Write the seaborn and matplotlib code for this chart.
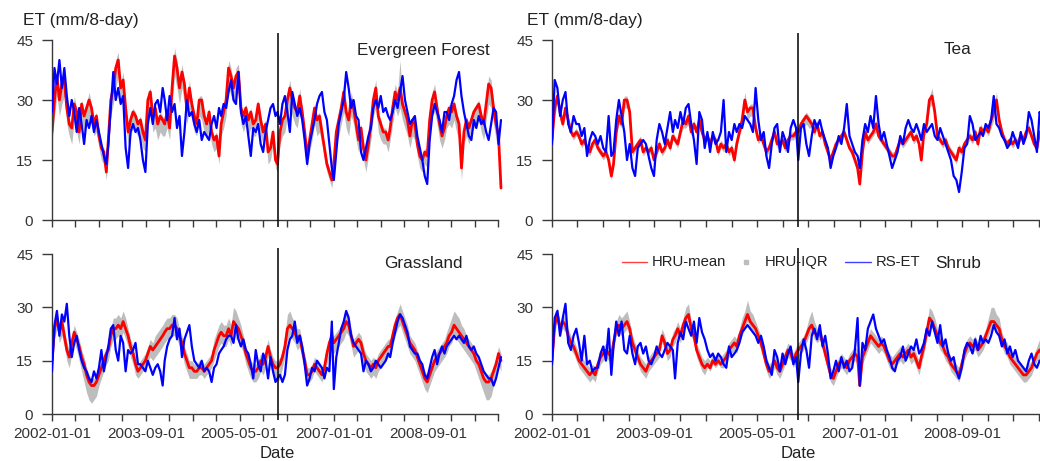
import matplotlib
matplotlib.use("Agg")
import matplotlib.pyplot as plt
import matplotlib.dates as mdates
from matplotlib.lines import Line2D
import seaborn as sns
import pandas as pd
import numpy as np

# ---------------------------------------------------------------
# 16-day ET composites (mm/8-day), 23 composites per year, 2002-2009
# ---------------------------------------------------------------
years = list(range(2002, 2010))
steps_per_year = 23

ef_mean = [
    22, 30, 36, 30, 34, 35, 28, 24, 23, 29, 27, 22, 29, 26, 28, 30, 28, 24, 26, 21, 18, 17, 12,
    20, 30, 33, 38, 40, 33, 35, 28, 22, 25, 27, 26, 24, 25, 22, 20, 30, 32, 26, 28, 24, 26, 25,
    24, 27, 23, 33, 41, 38, 33, 37, 34, 28, 33, 29, 26, 24, 30, 30, 26, 24, 27, 22, 20, 21, 16,
    24, 27, 30, 38, 36, 33, 36, 37, 28, 26, 28, 25, 27, 24, 25, 29, 25, 22, 24, 17, 18, 22, 15,
    14, 22, 25, 26, 30, 33, 30, 28, 27, 31, 27, 22, 16, 20, 24, 28, 25, 26, 22, 18, 14, 12, 10,
    14, 22, 25, 28, 32, 27, 25, 30, 28, 24, 20, 23, 18, 15, 19, 24, 30, 33, 26, 24, 22, 22, 20,
    23, 28, 32, 30, 33, 29, 27, 25, 21, 25, 24, 19, 16, 15, 17, 16, 25, 30, 32, 28, 24, 21, 23,
    26, 28, 27, 29, 26, 24, 13, 22, 25, 23, 25, 27, 28, 29, 26, 24, 29, 34, 33, 28, 24, 21, 8,
]
ef_rs = [
    27, 38, 34, 40, 33, 38, 31, 26, 30, 27, 22, 28, 24, 19, 25, 23, 26, 22, 25, 22, 19, 16, 14,
    19, 28, 37, 30, 33, 29, 31, 18, 13, 22, 24, 22, 23, 20, 15, 12, 24, 28, 24, 29, 30, 27, 33,
    30, 25, 31, 27, 29, 23, 26, 16, 22, 30, 26, 27, 24, 22, 25, 20, 22, 21, 20, 24, 26, 23, 28,
    26, 29, 28, 32, 35, 30, 29, 37, 27, 24, 26, 21, 16, 23, 22, 24, 19, 17, 22, 25, 28, 29, 26,
    27, 24, 29, 31, 27, 22, 32, 29, 26, 28, 25, 20, 14, 19, 22, 25, 29, 31, 32, 27, 25, 19, 13,
    10, 17, 24, 27, 30, 37, 33, 28, 30, 26, 25, 17, 15, 18, 21, 23, 28, 30, 28, 31, 27, 28, 26,
    25, 27, 30, 28, 32, 36, 30, 27, 24, 25, 26, 21, 18, 15, 11, 9, 20, 26, 29, 27, 25, 22, 27,
    27, 25, 29, 31, 35, 37, 31, 27, 24, 21, 20, 25, 23, 26, 24, 25, 22, 20, 24, 28, 27, 19, 25,
]
ef_iqr_below = [
    3, 4, 5, 4, 5, 4, 4, 3, 4, 4, 5, 3, 4, 4, 4, 5, 4, 3, 4, 3, 3, 3, 2,
    3, 4, 4, 5, 4, 4, 5, 4, 3, 4, 4, 4, 3, 4, 4, 3, 5, 4, 4, 5, 4, 4, 4,
    3, 4, 3, 4, 5, 5, 4, 4, 5, 4, 5, 4, 4, 3, 4, 5, 4, 4, 4, 3, 3, 3, 2,
    3, 4, 4, 5, 5, 4, 5, 5, 4, 4, 4, 4, 4, 3, 4, 4, 4, 3, 3, 3, 3, 3, 2,
    2, 3, 4, 4, 4, 5, 4, 4, 4, 4, 4, 3, 3, 3, 4, 4, 4, 4, 3, 3, 2, 2, 2,
    2, 3, 4, 4, 5, 4, 4, 4, 4, 4, 3, 3, 3, 3, 3, 4, 4, 5, 4, 4, 3, 3, 3,
    3, 4, 4, 4, 5, 4, 4, 4, 3, 4, 4, 3, 3, 3, 3, 3, 4, 4, 5, 4, 4, 3, 3,
    3, 4, 4, 4, 4, 4, 3, 3, 4, 4, 4, 4, 4, 4, 4, 4, 4, 5, 5, 4, 4, 3, 1,
]
ef_iqr_above = [
    1, 2, 2, 1, 2, 2, 1, 1, 1, 2, 1, 1, 1, 1, 1, 2, 1, 1, 1, 1, 1, 1, 1,
    1, 1, 2, 2, 2, 1, 2, 1, 1, 1, 1, 1, 1, 1, 1, 1, 2, 1, 1, 1, 1, 1, 1,
    1, 1, 1, 2, 2, 2, 1, 2, 1, 1, 2, 1, 1, 1, 1, 1, 1, 1, 1, 1, 1, 1, 1,
    1, 1, 2, 2, 2, 1, 2, 2, 1, 1, 1, 1, 1, 1, 1, 1, 1, 1, 1, 1, 1, 1, 1,
    1, 1, 1, 1, 2, 2, 1, 1, 1, 2, 1, 1, 1, 1, 1, 1, 1, 1, 1, 1, 1, 1, 1,
    1, 1, 1, 1, 2, 1, 1, 2, 1, 1, 1, 1, 1, 1, 1, 1, 2, 2, 1, 1, 1, 1, 1,
    1, 1, 2, 2, 7, 1, 1, 1, 1, 1, 1, 1, 1, 1, 1, 1, 1, 2, 2, 1, 1, 1, 1,
    1, 1, 1, 1, 1, 1, 1, 1, 1, 1, 1, 1, 1, 1, 1, 1, 1, 2, 2, 1, 1, 1, 1,
]

tea_mean = [
    20, 28, 31, 27, 24, 28, 25, 22, 21, 22, 21, 19, 20, 18, 17, 19, 20, 18, 17, 16, 17, 15, 11,
    14, 22, 26, 24, 30, 30, 27, 17, 18, 19, 20, 17, 18, 17, 18, 15, 17, 19, 17, 18, 20, 18, 21,
    20, 19, 22, 25, 24, 26, 22, 24, 22, 25, 22, 20, 21, 19, 21, 20, 17, 19, 18, 19, 17, 18, 15,
    19, 22, 25, 30, 27, 28, 28, 23, 20, 21, 19, 17, 18, 20, 22, 19, 19, 20, 18, 20, 21, 21, 22,
    22, 24, 25, 26, 25, 24, 22, 24, 21, 22, 19, 17, 15, 17, 19, 20, 21, 22, 20, 18, 17, 15, 13,
    9, 17, 22, 20, 21, 22, 24, 21, 20, 19, 18, 17, 16, 16, 18, 20, 19, 20, 21, 22, 20, 21, 19,
    15, 22, 24, 30, 31, 27, 21, 20, 19, 20, 18, 17, 16, 15, 18, 17, 19, 20, 21, 20, 22, 19, 23,
    22, 23, 22, 25, 27, 30, 25, 22, 20, 19, 20, 19, 20, 19, 21, 20, 22, 23, 21, 19, 18, 22, 21,
]
tea_rs = [
    19, 35, 33, 26, 30, 32, 24, 22, 26, 24, 24, 21, 23, 16, 20, 22, 21, 19, 21, 18, 17, 26, 16,
    17, 25, 30, 26, 22, 15, 19, 13, 11, 18, 19, 20, 19, 16, 13, 11, 20, 24, 22, 19, 23, 27, 22,
    25, 23, 27, 24, 28, 29, 24, 20, 14, 27, 25, 18, 22, 17, 22, 19, 20, 22, 30, 17, 22, 20, 24,
    22, 24, 23, 26, 25, 24, 22, 33, 25, 20, 22, 16, 13, 19, 23, 24, 17, 22, 20, 17, 23, 25, 23,
    15, 23, 24, 19, 16, 21, 25, 23, 25, 22, 20, 18, 13, 16, 18, 21, 19, 23, 29, 21, 19, 17, 16,
    13, 20, 24, 22, 26, 23, 31, 24, 20, 22, 19, 16, 13, 15, 17, 21, 19, 23, 25, 23, 22, 24, 22,
    20, 24, 22, 23, 24, 21, 20, 23, 21, 19, 17, 15, 11, 10, 7, 12, 18, 19, 26, 24, 20, 21, 22,
    21, 24, 23, 25, 31, 24, 23, 21, 20, 18, 19, 22, 20, 18, 22, 19, 21, 27, 25, 21, 17, 27, 24,
]
tea_iqr_below = [
    1, 2, 2, 2, 1, 2, 1, 1, 1, 1, 1, 1, 1, 1, 1, 1, 1, 1, 1, 1, 1, 1, 1,
    1, 1, 2, 1, 2, 2, 1, 1, 1, 1, 1, 1, 1, 1, 1, 1, 1, 1, 1, 1, 1, 1, 1,
    1, 1, 1, 2, 1, 2, 1, 1, 1, 2, 1, 1, 1, 1, 1, 1, 1, 1, 1, 1, 1, 1, 1,
    1, 1, 2, 2, 2, 2, 2, 1, 1, 1, 1, 1, 1, 1, 1, 1, 1, 1, 1, 1, 1, 1, 1,
    1, 1, 2, 2, 2, 1, 1, 1, 1, 1, 1, 1, 1, 1, 1, 1, 1, 1, 1, 1, 1, 1, 1,
    1, 1, 1, 1, 1, 1, 2, 1, 1, 1, 1, 1, 1, 1, 1, 1, 1, 1, 1, 1, 1, 1, 1,
    1, 1, 2, 2, 2, 2, 1, 1, 1, 1, 1, 1, 1, 1, 1, 1, 1, 1, 1, 1, 1, 1, 1,
    1, 1, 1, 2, 2, 2, 2, 1, 1, 1, 1, 1, 1, 1, 1, 1, 1, 1, 1, 1, 1, 1, 1,
]
tea_iqr_above = [
    1, 1, 1, 1, 1, 1, 1, 1, 1, 1, 1, 1, 1, 1, 1, 1, 1, 1, 1, 1, 1, 1, 1,
    1, 1, 1, 1, 1, 1, 1, 1, 1, 1, 1, 1, 1, 1, 1, 1, 1, 1, 1, 1, 1, 1, 1,
    1, 1, 1, 1, 1, 1, 1, 1, 1, 1, 1, 1, 1, 1, 1, 1, 1, 1, 1, 1, 1, 1, 1,
    1, 1, 1, 2, 1, 1, 1, 1, 1, 1, 1, 1, 1, 1, 1, 1, 1, 1, 1, 1, 1, 1, 1,
    1, 1, 1, 1, 1, 1, 1, 1, 1, 1, 1, 1, 1, 1, 1, 1, 1, 1, 1, 1, 1, 1, 1,
    1, 1, 1, 1, 1, 1, 1, 1, 1, 1, 1, 1, 1, 1, 1, 1, 1, 1, 1, 1, 1, 1, 1,
    1, 1, 1, 1, 2, 1, 1, 1, 1, 1, 1, 1, 1, 1, 1, 1, 1, 1, 1, 1, 1, 1, 1,
    1, 1, 1, 1, 1, 2, 1, 1, 1, 1, 1, 1, 1, 1, 1, 1, 1, 1, 1, 1, 1, 1, 1,
]

gr_mean = [
    15, 24, 27, 23, 26, 22, 18, 16, 20, 23, 21, 19, 16, 14, 11, 9, 8, 8, 9, 11, 13, 15, 17,
    18, 22, 24, 24, 25, 24, 26, 24, 22, 19, 17, 14, 12, 13, 14, 15, 17, 19, 18, 19, 20, 21, 22,
    23, 24, 24, 25, 25, 24, 22, 20, 17, 15, 13, 13, 12, 12, 13, 13, 12, 13, 14, 15, 18, 20, 22,
    23, 22, 22, 24, 22, 26, 25, 24, 22, 20, 17, 15, 13, 12, 12, 13, 15, 14, 16, 19, 16, 14, 13,
    13, 14, 16, 19, 24, 25, 24, 23, 21, 22, 18, 15, 11, 11, 12, 14, 13, 12, 11, 13, 17, 20, 22,
    20, 21, 22, 23, 24, 26, 25, 22, 19, 20, 21, 20, 17, 15, 14, 13, 14, 13, 15, 16, 17, 18, 19,
    19, 22, 25, 27, 28, 26, 24, 22, 20, 19, 18, 16, 14, 12, 10, 9, 11, 13, 15, 16, 17, 18, 19,
    20, 22, 23, 25, 24, 23, 22, 21, 20, 19, 18, 17, 15, 14, 12, 10, 9, 9, 10, 12, 14, 17, 15,
]
gr_rs = [
    12, 25, 29, 22, 28, 26, 31, 22, 16, 20, 22, 18, 15, 13, 12, 10, 9, 12, 10, 13, 18, 12, 16,
    19, 24, 25, 18, 15, 22, 20, 12, 18, 17, 18, 20, 14, 14, 13, 12, 15, 13, 11, 13, 14, 12, 8,
    15, 19, 21, 22, 27, 21, 24, 16, 21, 23, 25, 19, 15, 14, 13, 15, 12, 13, 12, 9, 13, 14, 17,
    18, 19, 21, 22, 22, 20, 25, 21, 19, 21, 18, 17, 14, 10, 18, 14, 12, 17, 15, 10, 16, 12, 9,
    10, 11, 9, 11, 18, 21, 22, 26, 20, 22, 19, 14, 8, 10, 13, 12, 15, 14, 13, 10, 13, 12, 26,
    7, 16, 20, 24, 26, 29, 27, 22, 20, 19, 18, 17, 12, 15, 14, 12, 13, 15, 14, 13, 14, 15, 17,
    16, 20, 23, 26, 28, 27, 25, 23, 19, 18, 17, 17, 15, 14, 11, 10, 13, 16, 18, 14, 17, 19, 17,
    19, 20, 21, 22, 21, 22, 21, 20, 22, 19, 18, 19, 17, 16, 14, 12, 11, 10, 10, 8, 10, 13, 16,
]
gr_iqr_below = [
    3, 3, 3, 3, 4, 3, 3, 3, 3, 3, 3, 4, 4, 5, 5, 5, 5, 4, 4, 3, 3, 3, 3,
    3, 3, 3, 3, 3, 3, 3, 3, 3, 3, 3, 3, 2, 2, 2, 2, 2, 3, 3, 3, 3, 3, 3,
    3, 3, 3, 3, 3, 3, 3, 3, 3, 3, 3, 3, 2, 2, 2, 2, 2, 2, 2, 2, 3, 3, 3,
    3, 3, 3, 3, 3, 3, 4, 3, 3, 3, 3, 3, 3, 3, 3, 3, 3, 3, 3, 3, 3, 3, 3,
    4, 4, 3, 3, 3, 3, 3, 3, 3, 3, 3, 3, 2, 2, 2, 2, 2, 2, 2, 2, 3, 3, 3,
    3, 3, 3, 3, 3, 3, 3, 3, 3, 3, 3, 3, 3, 3, 3, 3, 3, 3, 3, 3, 3, 3, 3,
    3, 3, 3, 3, 3, 3, 3, 3, 3, 3, 3, 3, 3, 3, 3, 3, 3, 3, 3, 3, 3, 3, 3,
    3, 3, 3, 3, 3, 3, 3, 3, 3, 3, 3, 3, 3, 4, 4, 4, 5, 5, 5, 4, 4, 3, 3,
]
gr_iqr_above = [
    2, 2, 2, 2, 2, 2, 2, 2, 2, 2, 2, 2, 2, 2, 2, 2, 2, 2, 2, 2, 2, 2, 2,
    2, 2, 3, 3, 3, 3, 3, 3, 2, 2, 2, 2, 2, 2, 2, 2, 2, 2, 2, 3, 3, 3, 3,
    3, 3, 3, 3, 3, 3, 2, 2, 2, 2, 2, 2, 2, 2, 2, 2, 2, 2, 2, 2, 3, 3, 3,
    3, 3, 3, 3, 3, 4, 4, 3, 3, 2, 2, 2, 2, 2, 2, 2, 2, 2, 2, 2, 2, 2, 2,
    2, 2, 2, 3, 4, 4, 3, 3, 3, 2, 2, 2, 2, 2, 2, 2, 2, 2, 2, 2, 2, 2, 2,
    2, 2, 2, 2, 3, 3, 3, 2, 2, 2, 2, 2, 2, 2, 2, 2, 2, 2, 2, 2, 2, 2, 2,
    2, 2, 2, 2, 3, 3, 3, 3, 2, 2, 2, 2, 2, 2, 2, 2, 2, 2, 2, 2, 2, 2, 2,
    3, 3, 4, 4, 4, 4, 3, 3, 2, 2, 2, 2, 2, 2, 2, 2, 2, 2, 2, 2, 2, 2, 2,
]

sh_mean = [
    15, 25, 28, 24, 26, 25, 22, 20, 19, 17, 15, 14, 13, 12, 11, 12, 11, 14, 16, 17, 18, 17, 16,
    20, 24, 25, 24, 25, 26, 24, 20, 18, 16, 14, 13, 12, 14, 15, 16, 17, 18, 22, 20, 17, 18, 21,
    22, 24, 22, 25, 27, 28, 24, 22, 18, 16, 14, 13, 14, 13, 15, 14, 15, 14, 15, 16, 18, 19, 20,
    19, 22, 24, 26, 28, 26, 25, 24, 22, 20, 17, 14, 12, 13, 15, 13, 12, 14, 16, 18, 17, 15, 17,
    18, 19, 20, 22, 24, 25, 23, 22, 23, 20, 17, 14, 11, 10, 12, 14, 15, 14, 13, 15, 16, 17, 16,
    8, 16, 18, 20, 22, 21, 20, 19, 20, 19, 17, 15, 14, 15, 16, 17, 16, 17, 18, 16, 17, 15, 13,
    16, 19, 23, 27, 26, 24, 22, 20, 19, 17, 16, 14, 13, 12, 11, 14, 17, 19, 20, 19, 20, 18, 19,
    20, 22, 24, 26, 26, 25, 24, 21, 19, 18, 16, 15, 14, 13, 12, 11, 11, 12, 13, 15, 17, 18, 17,
]
sh_rs = [
    14, 27, 29, 22, 27, 31, 20, 18, 22, 24, 20, 15, 22, 14, 15, 12, 13, 13, 17, 19, 15, 24, 11,
    19, 26, 22, 26, 18, 17, 22, 17, 14, 19, 20, 17, 19, 15, 14, 16, 19, 17, 16, 18, 20, 19, 18,
    10, 20, 23, 21, 26, 24, 22, 26, 20, 27, 23, 21, 18, 16, 17, 15, 17, 16, 14, 13, 19, 16, 17,
    18, 20, 23, 24, 25, 24, 23, 22, 20, 22, 19, 15, 13, 11, 18, 16, 12, 17, 14, 17, 19, 14, 16,
    9, 17, 21, 18, 13, 22, 24, 21, 25, 19, 22, 17, 10, 12, 15, 12, 16, 13, 15, 12, 13, 18, 27,
    8, 20, 18, 24, 26, 28, 24, 22, 20, 21, 18, 16, 13, 12, 15, 16, 19, 15, 17, 19, 18, 21, 17,
    18, 20, 24, 22, 26, 23, 20, 25, 19, 21, 17, 15, 16, 12, 10, 13, 18, 20, 19, 17, 21, 18, 22,
    20, 21, 20, 22, 25, 23, 22, 19, 21, 17, 19, 16, 18, 15, 14, 13, 12, 15, 17, 14, 13, 15, 14,
]
sh_iqr_below = [
    2, 2, 2, 2, 2, 2, 2, 2, 2, 2, 2, 2, 2, 2, 2, 2, 2, 2, 2, 2, 2, 2, 2,
    2, 2, 2, 2, 2, 2, 2, 2, 2, 2, 2, 2, 2, 2, 2, 2, 2, 2, 2, 2, 2, 2, 2,
    2, 2, 2, 2, 2, 2, 2, 2, 2, 2, 2, 2, 1, 1, 1, 1, 1, 1, 2, 2, 2, 2, 2,
    2, 2, 2, 2, 2, 2, 2, 2, 2, 2, 2, 2, 2, 2, 2, 2, 2, 2, 2, 2, 2, 2, 2,
    2, 2, 2, 2, 2, 2, 2, 2, 2, 2, 2, 2, 2, 2, 2, 2, 2, 2, 2, 2, 2, 2, 2,
    1, 2, 2, 2, 2, 2, 2, 2, 2, 2, 2, 2, 2, 2, 2, 2, 2, 2, 2, 2, 2, 2, 2,
    2, 2, 2, 2, 2, 2, 2, 2, 2, 2, 2, 2, 2, 2, 2, 2, 2, 2, 2, 2, 2, 2, 2,
    2, 2, 2, 2, 2, 2, 2, 2, 2, 2, 2, 2, 2, 2, 2, 2, 2, 2, 2, 2, 2, 3, 3,
]
sh_iqr_above = [
    2, 2, 2, 2, 2, 2, 2, 2, 2, 2, 2, 2, 2, 2, 2, 2, 2, 2, 2, 2, 2, 2, 2,
    2, 2, 3, 3, 3, 3, 2, 2, 2, 2, 2, 2, 2, 2, 2, 2, 2, 2, 2, 2, 2, 2, 2,
    2, 2, 2, 2, 3, 3, 2, 2, 2, 2, 2, 2, 2, 2, 2, 2, 2, 2, 2, 2, 2, 2, 2,
    2, 2, 3, 3, 4, 3, 3, 2, 2, 2, 2, 2, 2, 2, 2, 2, 2, 2, 2, 2, 2, 2, 2,
    2, 2, 2, 2, 3, 4, 3, 2, 2, 2, 2, 2, 2, 2, 2, 2, 2, 2, 2, 2, 2, 2, 2,
    2, 2, 2, 2, 2, 2, 2, 2, 2, 2, 2, 2, 2, 2, 2, 2, 2, 2, 2, 2, 2, 2, 2,
    2, 2, 2, 3, 3, 3, 2, 2, 2, 2, 2, 2, 2, 2, 2, 2, 2, 2, 2, 2, 2, 2, 2,
    2, 2, 3, 4, 4, 3, 3, 2, 2, 2, 2, 2, 2, 2, 2, 2, 2, 2, 2, 2, 2, 3, 3,
]

panel_names = ["Evergreen Forest", "Tea", "Grassland", "Shrub"]
legend_labels = ["HRU-mean", "HRU-IQR", "RS-ET"]
y_ticks = [0, 15, 30, 45]
x_label_dates = ["2002-01-01", "2003-09-01", "2005-05-01", "2007-01-01", "2008-09-01"]
split_date = "2006-01-01"

# composite start dates: day 1, 17, 33, ... of each year
dates = pd.DatetimeIndex([pd.Timestamp(y, 1, 1) + pd.Timedelta(days=16 * k)
                          for y in years for k in range(steps_per_year)])

panels = [
    (ef_mean, ef_rs, ef_iqr_below, ef_iqr_above),
    (tea_mean, tea_rs, tea_iqr_below, tea_iqr_above),
    (gr_mean, gr_rs, gr_iqr_below, gr_iqr_above),
    (sh_mean, sh_rs, sh_iqr_below, sh_iqr_above),
]

sns.set_theme(style="white")
plt.rcParams["font.family"] = ["Liberation Sans", "DejaVu Sans"]

W, H = 1040, 461
fig = plt.figure(figsize=(W / 100, H / 100), dpi=100)
fig.patch.set_facecolor("white")

RED = "#ff0000"
BLUE = "#0000ff"
GREY = "#bdbdbd"
INK = "#222222"
AXIS = "#3a3a3a"


def px_axes(x0, x1, ytop, ybot):
    return fig.add_axes([x0 / W, 1 - ybot / H, (x1 - x0) / W, (ybot - ytop) / H])


# pixel boxes: (left, right, top, bottom)
boxes = [
    (52, 503, 32.8, 227.2),
    (552, 1044.5, 32.8, 227.2),
    (52, 503, 247.6, 420.4),
    (552, 1044.5, 247.6, 420.4),
]

x_start = pd.Timestamp("2002-01-01")
x_end = pd.Timestamp("2010-01-01")
tick_dates = pd.date_range("2002-01-01", "2009-12-01", freq="5MS")
tick_nums = mdates.date2num(tick_dates.to_pydatetime())

for i, (box, (mean, rs, below, above)) in enumerate(zip(boxes, panels)):
    ax = px_axes(*box)
    mean_a = np.array(mean, dtype=float)
    lo = mean_a - np.array(below)
    hi = mean_a + np.array(above)
    ax.fill_between(dates, lo, hi, color=GREY, lw=0, zorder=1)
    sns.lineplot(x=dates, y=mean_a, ax=ax, color=RED, lw=2.0, zorder=2,
                 estimator=None, legend=False)
    sns.lineplot(x=dates, y=rs, ax=ax, color=BLUE, lw=1.6, zorder=3,
                 estimator=None, legend=False)
    ax.axvline(pd.Timestamp(split_date), color="black", lw=1.1, zorder=4)

    ax.set_xlim(x_start, x_end)
    ax.set_ylim(-1.8, 46.8)
    ax.set_xlabel("")
    ax.set_ylabel("")
    ax.patch.set_alpha(0)

    for s in ("top", "right"):
        ax.spines[s].set_visible(False)
    ax.spines["left"].set_bounds(0, 45)
    ax.spines["left"].set_color(AXIS)
    ax.spines["left"].set_linewidth(1.0)
    ax.spines["bottom"].set_position(("data", 0))
    ax.spines["bottom"].set_bounds(tick_nums[0], tick_nums[-1])
    ax.spines["bottom"].set_color(AXIS)
    ax.spines["bottom"].set_linewidth(1.0)

    ax.set_yticks(y_ticks)
    ax.set_yticklabels([str(v) for v in y_ticks])
    ax.tick_params(axis="y", direction="out", length=7, width=1.0, color=AXIS,
                   pad=6.5, labelsize=11, labelcolor="#333333", left=True)

    ax.set_xticks(tick_nums)
    if i >= 2:
        labels = [d.strftime("%Y-%m-%d") if d.strftime("%Y-%m-%d") in x_label_dates else ""
                  for d in tick_dates]
    else:
        labels = [""] * len(tick_dates)
    ax.set_xticklabels(labels)
    ax.tick_params(axis="x", direction="out", length=5, width=1.0, color=AXIS,
                   pad=4, labelsize=11, labelcolor="#333333", bottom=True)
    ax.grid(False)


def ftext(x, y, s, **kw):
    fig.text(x / W, 1 - y / H, s, color=INK, **kw)


# axis titles
ftext(23, 21, "ET (mm/8-day)", fontsize=12.5, ha="left", va="center")
ftext(527, 21, "ET (mm/8-day)", fontsize=12.5, ha="left", va="center")
ftext(277.5, 453, "Date", fontsize=12, ha="center", va="center")
ftext(798, 453, "Date", fontsize=12, ha="center", va="center")

# panel names
ftext(490, 50, panel_names[0], fontsize=12.3, ha="right", va="center")
ftext(958, 49, panel_names[1], fontsize=12.3, ha="center", va="center")
ftext(423, 263, panel_names[2], fontsize=12.3, ha="center", va="center")
ftext(958, 263, panel_names[3], fontsize=12.3, ha="center", va="center")

# legend inside the Shrub panel
ly = 1 - 262 / H
fig.add_artist(Line2D([622 / W, 647 / W], [ly, ly], color=RED, lw=1.0, alpha=0.75))
ftext(652, 262, legend_labels[0], fontsize=10.7, ha="left", va="center")
fig.add_artist(Line2D([746 / W], [ly], marker="s", markersize=3.2, color=GREY, lw=0))
ftext(765, 262, legend_labels[1], fontsize=10.7, ha="left", va="center")
fig.add_artist(Line2D([845 / W, 871 / W], [ly, ly], color=BLUE, lw=1.0, alpha=0.75))
ftext(876, 262, legend_labels[2], fontsize=10.7, ha="left", va="center")

fig.savefig("out.png", dpi=100, facecolor="white")
